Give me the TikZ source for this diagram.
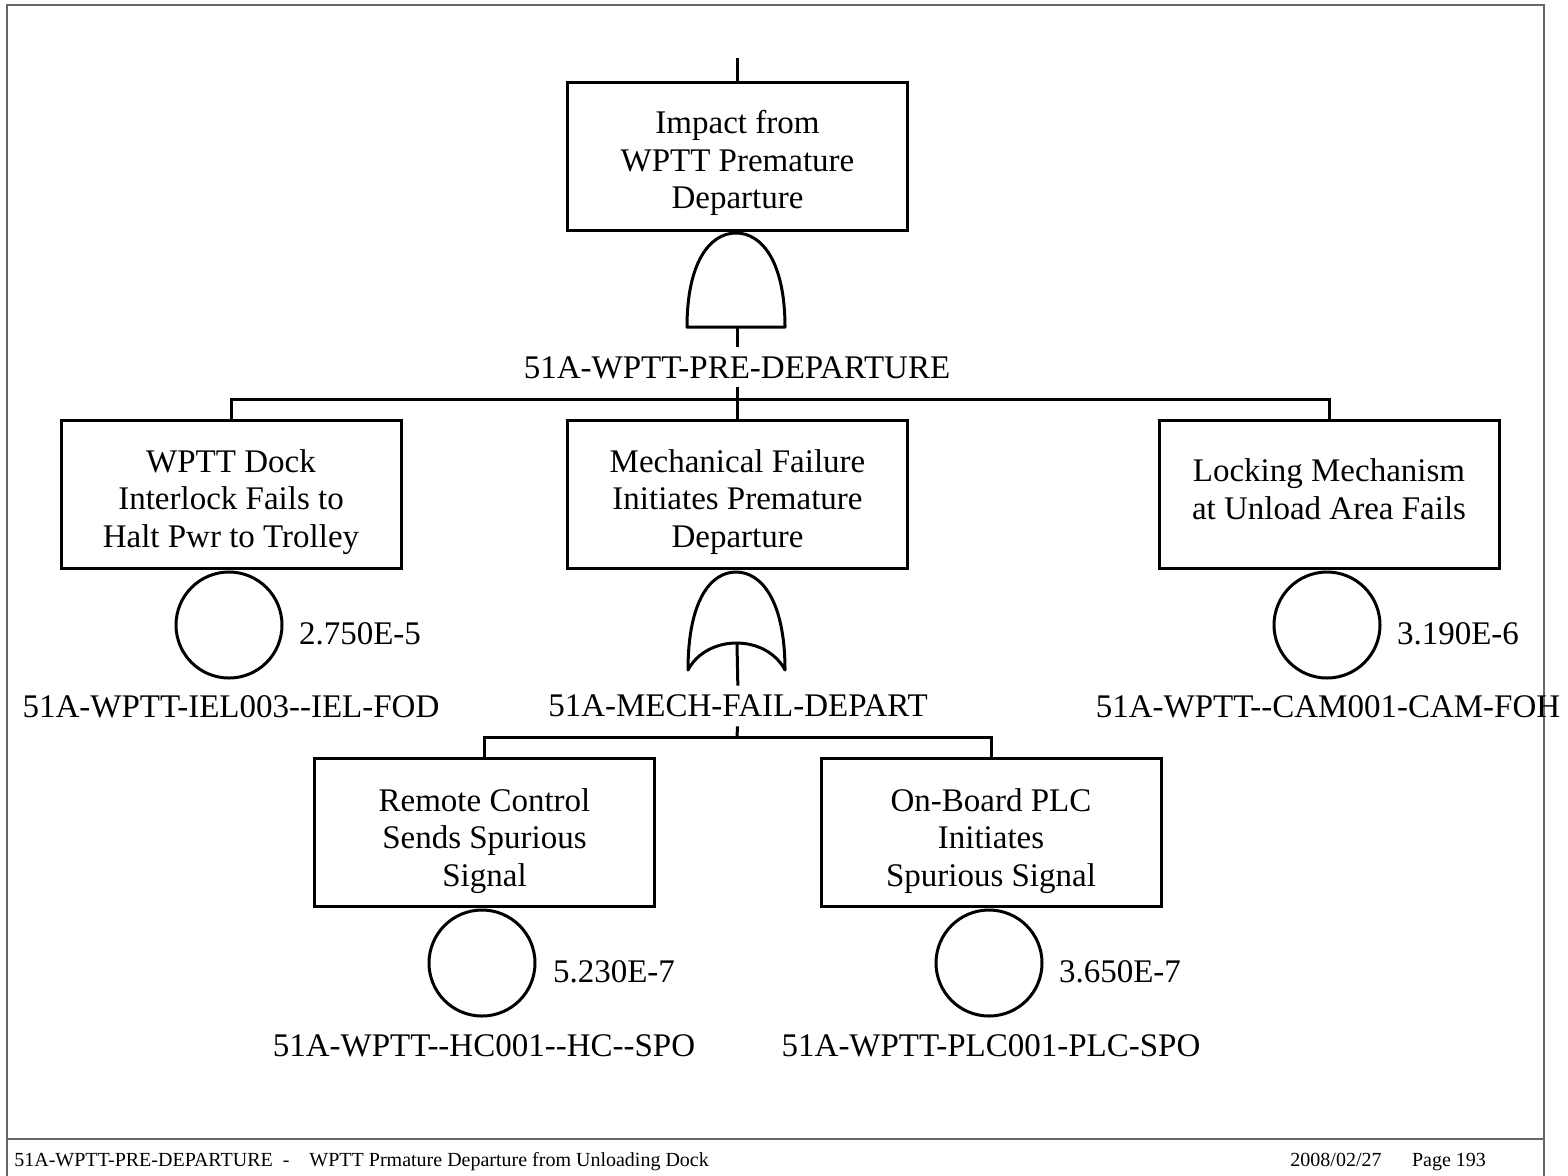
\documentclass[tikz,border=0pt]{standalone}
\usepackage{fontspec}
\setmainfont{Liberation Serif}

\tikzset{
  event/.style={draw, line width=1.5pt, minimum width=170pt, minimum height=74pt, inner sep=0pt},
  txt/.style={align=center, inner sep=0pt, font=\fontsize{16.5}{18.75}\selectfont},
  basic/.style={draw, circle, line width=1.5pt, minimum size=53pt, inner sep=0pt},
  tag/.style={inner sep=0pt, text height=11pt, text depth=0pt,
    font=\fontsize{16.5}{18.75}\selectfont},
  wire/.style={line width=1.5pt},
  gate/.style={line width=1.5pt, line join=round},
  foot/.style={inner sep=0pt, font=\fontsize{10}{12}\selectfont},
}

\begin{document}
\begin{tikzpicture}[x=0.5pt,y=-0.5pt]
  \useasboundingbox (0,0) rectangle (1568,1175);
  % page frame and footer
  \draw[gray!80!black, line width=0.8pt] (7,1180) -- (7,5) -- (1544,5) -- (1544,1180);
  \draw[gray!80!black, line width=0.8pt] (7,1139) -- (1544,1139);
  \node[foot, anchor=base west] (ftitle) at (14,1166)
    {51A-WPTT-PRE-DEPARTURE\hspace{5pt}-\hspace{10pt}WPTT Prmature Departure from Unloading Dock};
  \node[foot, anchor=base] (fdate) at (1336,1166) {2008/02/27};
  \node[foot, anchor=base] (fpage) at (1449,1166) {Page 193};

  % top event
  \coordinate (in) at (737,58);
  \node[event] (top) at (737.5,156) {};
  \node[txt, yshift=-3.5pt] (top-t) at (top) {Impact from\\WPTT Premature\\Departure};
  \draw[wire] (in) -- (in |- top.north);
  % AND gate
  \draw[gate] (687,327) .. controls (687,262) and (710,233) .. (736,233)
    .. controls (762,233) and (785,262) .. (785,327) -- cycle;
  \coordinate (and) at (737,327);
  \node[tag] (gtop) at (737,367) {51A-WPTT-PRE-DEPARTURE};
  \draw[wire, shorten >=4.5pt] (and) -- (gtop.north);
  \coordinate (bus1) at (737,399);
  \draw[wire, shorten <=4.5pt] (gtop.south) -- (bus1);

  % second level
  \node[event] (dock) at (231,494) {};
  \node[txt, yshift=-4pt] (dock-t) at (dock) {WPTT Dock\\Interlock Fails to\\Halt Pwr to Trolley};
  \node[event] (mech) at (737.5,494) {};
  \node[txt, yshift=-4pt] (mech-t) at (mech) {Mechanical Failure\\Initiates Premature\\Departure};
  \node[event] (lock) at (1329,494) {};
  \node[txt, yshift=2.5pt] (lock-t) at (lock) {Locking Mechanism\\at Unload Area Fails};
  \draw[wire] (dock.north) |- (bus1) -| (lock.north);
  \draw[wire] (bus1) -- (bus1 |- mech.north);

  % basic event under dock
  \node[basic] (c1) at (229,625) {};
  \node[tag] (p1) at (360,633) {2.750E-5};
  \node[tag] (n1) at (231,706) {51A-WPTT-IEL003-{}-IEL-FOD};

  % basic event under lock
  \node[basic] (c3) at (1327,625) {};
  \node[tag] (p3) at (1458,633) {3.190E-6};
  \node[tag] (n3) at (1328,706) {51A-WPTT-{}-CAM001-CAM-FOH};

  % OR gate
  \draw[gate] (688,670) .. controls (688,600) and (711,572) .. (736,572)
    .. controls (761,572) and (785,600) .. (785,670)
    .. controls (766,634) and (707,634) .. cycle;
  \coordinate (or) at (737,644);
  \node[tag] (gmech) at (738,705) {51A-MECH-FAIL-DEPART};
  \draw[wire, shorten >=4pt] (or) -- (gmech.north);
  \coordinate (bus2) at (737,737);
  \draw[wire, shorten <=5pt] (gmech.south) -- (bus2);

  % third level
  \node[event] (remote) at (484.5,832) {};
  \node[txt, yshift=-4.5pt] (remote-t) at (remote) {Remote Control\\Sends Spurious\\Signal};
  \node[event] (plc) at (991,832) {};
  \node[txt, yshift=-4.5pt] (plc-t) at (plc) {On-Board PLC\\Initiates\\Spurious Signal};
  \draw[wire] (remote.north) |- (bus2) -| (plc.north);

  \node[basic] (c4) at (482,963) {};
  \node[tag] (p4) at (614,971) {5.230E-7};
  \node[tag] (n4) at (484,1045) {51A-WPTT-{}-HC001-{}-HC-{}-SPO};

  \node[basic] (c5) at (989,963) {};
  \node[tag] (p5) at (1120,971) {3.650E-7};
  \node[tag] (n5) at (991,1045) {51A-WPTT-PLC001-PLC-SPO};
\end{tikzpicture}
\end{document}
